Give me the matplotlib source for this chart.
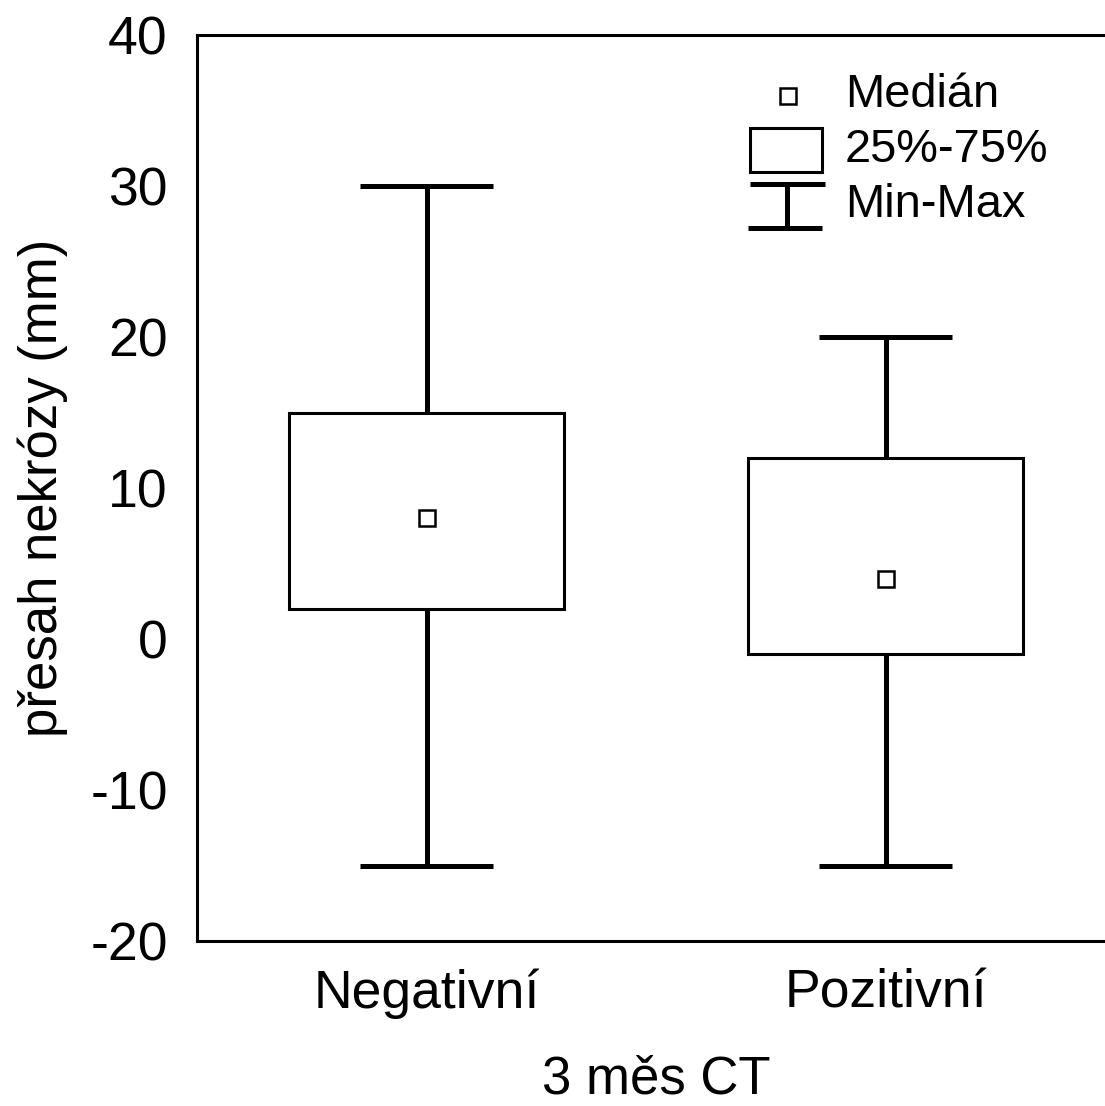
import matplotlib.pyplot as plt
from matplotlib.patches import Rectangle
from matplotlib.lines import Line2D

plt.rcParams['font.family'] = ['Liberation Sans', 'DejaVu Sans']
plt.rcParams['axes.unicode_minus'] = False

# --- data ---
skupiny = ["Negativní", "Pozitivní"]
medians = [8, 4]
q25 = [2, -1]
q75 = [15, 12]
mins = [-15, -15]
maxs = [30, 20]

W, H = 1105, 1106
fig = plt.figure(figsize=(W / 100, H / 100), dpi=100)
ax = fig.add_axes([197 / W, 1 - 941 / H, 918 / W, 906 / H])

box_w = 0.6
cap_w = 0.29
for i in range(len(skupiny)):
    # whiskers
    ax.plot([i, i], [mins[i], q25[i]], color='black', lw=3.6, solid_capstyle='butt', zorder=1)
    ax.plot([i, i], [q75[i], maxs[i]], color='black', lw=3.6, solid_capstyle='butt', zorder=1)
    ax.plot([i - cap_w / 2, i + cap_w / 2], [mins[i]] * 2, color='black', lw=3.6, solid_capstyle='butt')
    ax.plot([i - cap_w / 2, i + cap_w / 2], [maxs[i]] * 2, color='black', lw=3.6, solid_capstyle='butt')
    # box
    ax.add_patch(Rectangle((i - box_w / 2, q25[i]), box_w, q75[i] - q25[i],
                           facecolor='white', edgecolor='black', lw=2.2, zorder=2))
    # median
    ax.plot(i, medians[i], marker='s', ms=11, mfc='white', mec='black', mew=1.8, zorder=3)

ax.set_xlim(-0.5, 1.5)
ax.set_ylim(-20, 40)
ax.set_yticks([-20, -10, 0, 10, 20, 30, 40])
ax.set_xticks(range(len(skupiny)))
ax.set_xticklabels(skupiny)
ax.tick_params(axis='both', length=0, labelsize=38.5)
ax.tick_params(axis='y', pad=21)
ax.tick_params(axis='x', pad=20)
for s in ['left', 'bottom', 'top']:
    ax.spines[s].set_linewidth(2.2)
ax.spines['right'].set_visible(False)

ax.set_ylabel('přesah nekrózy (mm)', fontsize=38, labelpad=16)
ax.set_xlabel('3 měs CT', fontsize=38, labelpad=25)

# --- legenda (ručně) ---
def px(x, y):
    return x / W, 1 - y / H

tf = fig.transFigure
fig.add_artist(Line2D([788 / W], [1 - 96 / H], marker='s', ms=11, mfc='white', mec='black', mew=1.8, transform=tf))
x0, y0 = px(750, 172)
fig.add_artist(Rectangle((x0, y0), 72 / W, 44 / H, facecolor='white', edgecolor='black', lw=2.2, transform=tf))
for (xa, xb, y) in [(750, 825, 184), (748, 822, 228)]:
    fig.add_artist(Line2D([xa / W, xb / W], [1 - y / H] * 2, color='black', lw=3.6, solid_capstyle='butt', transform=tf))
fig.add_artist(Line2D([787 / W] * 2, [1 - 184 / H, 1 - 228 / H], color='black', lw=3.6, solid_capstyle='butt', transform=tf))
for txt, y in [('Medián', 95), ('25%-75%', 150), ('Min-Max', 205)]:
    fig.text(845 / W, 1 - y / H, txt, fontsize=33.8, va='center', ha='left')

plt.savefig('out.png', dpi=100)
